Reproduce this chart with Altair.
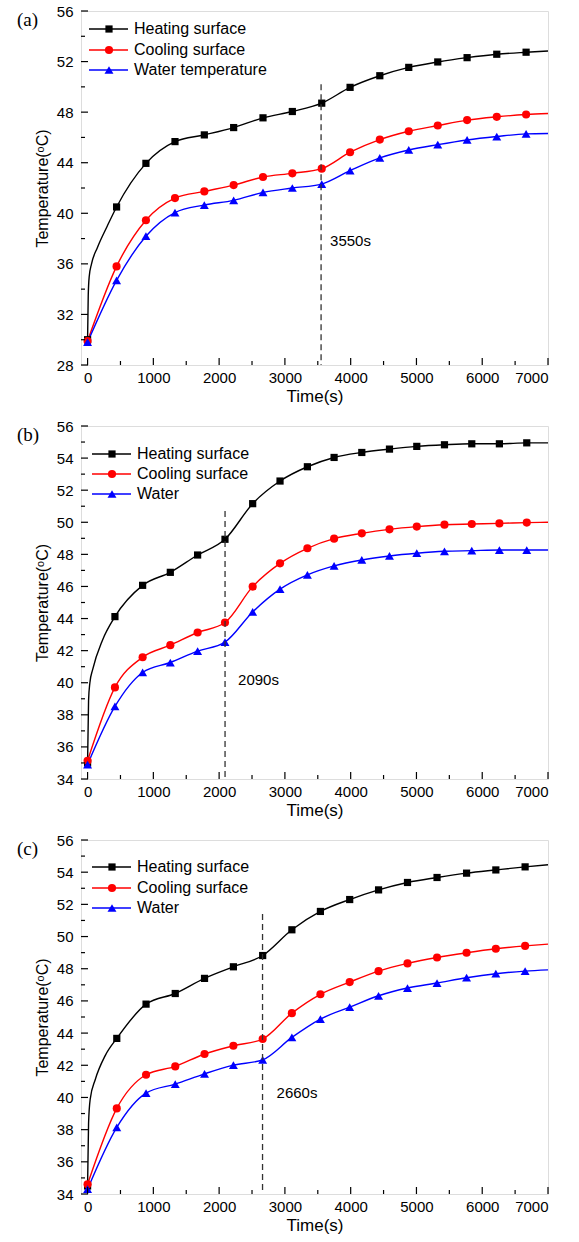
import altair as alt
import pandas as pd

# ---------------- data ----------------
# Panel (a)
a_time = [0, 441, 887, 1329, 1775, 2221, 2667, 3113, 3560, 3991, 4443, 4883, 5324, 5770, 6221, 6667]
a_heat = [30.0, 40.5, 43.95, 45.67, 46.2, 46.78, 47.55, 48.05, 48.71, 49.96, 50.88, 51.54, 51.97, 52.31, 52.58, 52.74]
a_cool = [29.9, 35.8, 39.45, 41.2, 41.73, 42.23, 42.87, 43.16, 43.53, 44.83, 45.83, 46.49, 46.94, 47.37, 47.63, 47.81]
a_water = [29.8, 34.69, 38.19, 40.06, 40.65, 41.02, 41.65, 42.0, 42.31, 43.37, 44.38, 45.01, 45.43, 45.80, 46.07, 46.28]
a_end = [52.84, 47.89, 46.31]
a_early_t = [10, 25, 60, 150, 300]
a_early_heat = [33.5, 35.0, 36.0, 37.3, 39.0]

# Panel (b)
b_time = [0, 416, 837, 1258, 1673, 2089, 2510, 2926, 3342, 3748, 4169, 4590, 5005, 5426, 5841, 6261, 6677]
b_heat = [35.0, 44.12, 46.07, 46.88, 47.96, 48.94, 51.16, 52.57, 53.46, 54.04, 54.35, 54.56, 54.73, 54.83, 54.89, 54.89, 54.95]
b_cool = [35.14, 39.71, 41.59, 42.34, 43.13, 43.75, 45.99, 47.44, 48.38, 48.98, 49.31, 49.56, 49.73, 49.85, 49.89, 49.93, 49.98]
b_water = [34.9, 38.52, 40.64, 41.26, 41.97, 42.53, 44.41, 45.83, 46.72, 47.28, 47.65, 47.90, 48.07, 48.19, 48.23, 48.27, 48.27]
b_end = [54.95, 50.0, 48.27]
b_early_t = [15, 35, 76, 228]
b_early_heat = [38.9, 40.0, 40.8, 42.67]

# Panel (c)
c_time = [0, 444, 889, 1333, 1778, 2217, 2662, 3106, 3540, 3985, 4424, 4864, 5313, 5762, 6207, 6652]
c_heat = [34.5, 43.67, 45.80, 46.46, 47.40, 48.12, 48.82, 50.42, 51.56, 52.30, 52.90, 53.36, 53.67, 53.94, 54.14, 54.33]
c_cool = [34.6, 39.32, 41.41, 41.93, 42.70, 43.21, 43.63, 45.24, 46.41, 47.17, 47.85, 48.33, 48.70, 48.99, 49.24, 49.42]
c_water = [34.3, 38.14, 40.27, 40.83, 41.47, 42.01, 42.34, 43.73, 44.87, 45.61, 46.32, 46.80, 47.11, 47.44, 47.69, 47.85]
c_end = [54.46, 49.53, 47.93]
c_early_t = [15, 40, 116, 268]
c_early_heat = [38.4, 39.9, 41.1, 42.6]

# events (dashed lines)
events = [3550, 2090, 2660]
event_tops = [50.2, 50.7, 51.4]
event_labels = ["3550s", "2090s", "2660s"]
event_label_T = [37.8, 40.2, 40.3]

legend_names_a = ["Heating surface", "Cooling surface", "Water temperature"]
legend_names_bc = ["Heating surface", "Cooling surface", "Water"]

x_end = 7000
x_ticks = list(range(0, 7001, 500))
x_labels = list(range(0, 7001, 1000))

SERIES = ["heat", "cool", "water"]
COLORS = ["#000000", "#ff0000", "#0000ff"]
SHAPES = ["square", "circle", "triangle-up"]
SIZES = {"heat": 52, "cool": 66, "water": 80}

FONT = "Liberation Sans"
W = 467


def panel(tag, times, heat, cool, water, end_vals, early_t, early_heat,
          ydom, ymajor, yminor, ev, ev_top, ev_label, ev_T, names, H,
          ev_dx, legend_x0, legend_rows):
    rows = []
    for key, vals, endv in zip(SERIES, [heat, cool, water], end_vals):
        for t, v in zip(times, vals):
            rows.append({"t": t, "T": v, "s": key})
        rows.append({"t": x_end, "T": endv, "s": key})
    for t, v in zip(early_t, early_heat):
        rows.append({"t": t, "T": v, "s": "heat"})
    line_df = pd.DataFrame(rows).sort_values(["s", "t"])

    mrows = []
    for key, vals in zip(SERIES, [heat, cool, water]):
        for t, v in zip(times, vals):
            mrows.append({"t": t, "T": v, "s": key})
    mark_df = pd.DataFrame(mrows)

    xs = alt.Scale(domain=[-100, x_end], nice=False, zero=False)
    ys = alt.Scale(domain=ydom, nice=False, zero=False)
    xaxis = alt.Axis(values=x_labels, format="d", ticks=False, domain=False, grid=False,
                     title="Time(s)", labelFont=FONT, labelFontSize=15, labelColor="black",
                     labelPadding=5, titleFont=FONT, titleFontSize=17, titleFontWeight="normal",
                     titleColor="black", titlePadding=3)
    y_label_vals = [v for v in range(ydom[0], ydom[1] + 1) if (v - ydom[0]) % ymajor == 0]
    yaxis = alt.Axis(values=y_label_vals, format="d", ticks=False, domain=False, grid=False,
                     title="Temperature(ᵒC)", labelFont=FONT, labelFontSize=15, labelColor="black",
                     labelPadding=8, titleFont=FONT, titleFontSize=16, titleFontWeight="normal",
                     titleColor="black", titlePadding=6)
    X = alt.X("t:Q", scale=xs, axis=xaxis)
    Y = alt.Y("T:Q", scale=ys, axis=yaxis)
    color = alt.Color("s:N", scale=alt.Scale(domain=SERIES, range=COLORS), legend=None)
    shape = alt.Shape("s:N", scale=alt.Scale(domain=SERIES, range=SHAPES), legend=None)

    layers = []
    lines = alt.Chart(line_df).mark_line(strokeWidth=1.4, interpolate="monotone").encode(
        x=X, y=Y, color=color, detail="s:N")
    layers.append(lines)
    for key in SERIES:
        pts = alt.Chart(mark_df[mark_df.s == key]).mark_point(
            filled=True, opacity=1, size=SIZES[key]).encode(x=X, y=Y, color=color, shape=shape)
        layers.append(pts)

    ev_df = pd.DataFrame({"t": [ev], "T": [ev_top], "T2": [ydom[0]], "lab": [ev_label], "TL": [ev_T]})
    layers.append(alt.Chart(ev_df).mark_rule(strokeDash=[6, 4], strokeWidth=1.3, color="#333333").encode(
        x=X, y=Y, y2="T2:Q"))
    layers.append(alt.Chart(ev_df).mark_text(align="left", baseline="middle", dx=ev_dx,
                                             font=FONT, fontSize=15, color="black").encode(
        x=X, y=alt.Y("TL:Q", scale=ys, axis=yaxis), text="lab:N"))

    xt_df = pd.DataFrame({"t": x_ticks, "major": [v % 1000 == 0 for v in x_ticks]})
    yt_vals = list(range(ydom[0], ydom[1] + 1, yminor))
    yt_df = pd.DataFrame({"T": yt_vals, "major": [(v - ydom[0]) % ymajor == 0 for v in yt_vals]})
    for is_major, ln in [(True, 7), (False, 4)]:
        layers.append(alt.Chart(xt_df[xt_df.major == is_major]).mark_rule(color="black", strokeWidth=1.2).encode(
            x=X, y=alt.value(H), y2=alt.value(H - ln)))
        layers.append(alt.Chart(yt_df[yt_df.major == is_major]).mark_rule(color="black", strokeWidth=1.2).encode(
            y=Y, x=alt.value(0), x2=alt.value(ln)))

    one = pd.DataFrame({"k": [0]})
    for i, (key, col, shp, nm) in enumerate(zip(SERIES, COLORS, SHAPES, names)):
        yy = legend_rows[i]
        layers.append(alt.Chart(one).mark_rule(color=col, strokeWidth=1.3).encode(
            x=alt.value(legend_x0), x2=alt.value(legend_x0 + 39), y=alt.value(yy)))
        layers.append(alt.Chart(one).mark_point(filled=True, opacity=1, color=col, shape=shp,
                                                size=SIZES[key]).encode(
            x=alt.value(legend_x0 + 20), y=alt.value(yy)))
        layers.append(alt.Chart(pd.DataFrame({"n": [nm]})).mark_text(
            align="left", baseline="middle", font=FONT, fontSize=16, color="black").encode(
            x=alt.value(legend_x0 + 45), y=alt.value(yy), text="n:N"))

    layers.append(alt.Chart(pd.DataFrame({"n": [tag]})).mark_text(
        align="left", baseline="middle", font="Liberation Serif", fontSize=19, color="black").encode(
        x=alt.value(-64), y=alt.value(9), text="n:N"))

    return alt.layer(*layers).properties(width=W, height=H)


pa = panel("(a)", a_time, a_heat, a_cool, a_water, a_end, a_early_t, a_early_heat,
           [28, 56], 4, 2, events[0], event_tops[0], event_labels[0], event_label_T[0],
           legend_names_a, 354, 9, 8, [18, 39, 59])
pb = panel("(b)", b_time, b_heat, b_cool, b_water, b_end, b_early_t, b_early_heat,
           [34, 56], 2, 1, events[1], event_tops[1], event_labels[1], event_label_T[1],
           legend_names_bc, 353, 13, 11, [28, 48, 68])
pc = panel("(c)", c_time, c_heat, c_cool, c_water, c_end, c_early_t, c_early_heat,
           [34, 56], 2, 1, events[2], event_tops[2], event_labels[2], event_label_T[2],
           legend_names_bc, 354, 14, 11, [27, 48, 68])

chart = alt.vconcat(pa, pb, pc, spacing=61, bounds="flush").properties(
    padding={"left": 16, "top": 3, "right": 18, "bottom": 5},
).configure_view(stroke="#111111", strokeWidth=1.5).configure(background="white")

chart.save("out.html", embed_options={"renderer": "svg", "actions": False})
